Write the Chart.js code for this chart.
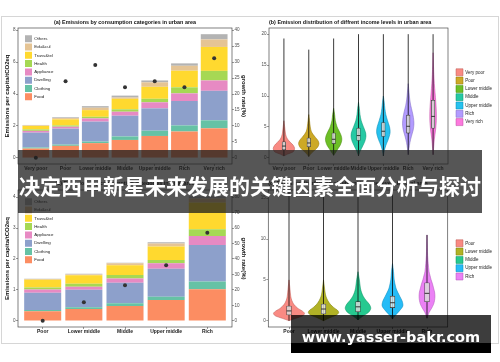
<!DOCTYPE html>
<html>
<head>
<meta charset="utf-8">
<script src="https://cdn.jsdelivr.net/npm/chart.js@4.4.1/dist/chart.umd.min.js"></script>
<style>
html,body{margin:0;padding:0;background:#fff;}
#page{position:relative;width:500px;height:362px;overflow:hidden;background:#fff;}
#page canvas{position:absolute;}
.frame{position:absolute;left:1px;top:16px;width:496px;height:326px;border:1px solid #d6d6d6;}
#banner{position:absolute;left:18px;top:150px;width:464px;height:63px;background:rgba(30,30,30,0.75);z-index:5;}
#banner div{position:absolute;left:0;top:23px;width:100%;height:24px;line-height:24px;text-align:center;color:#fff;font-family:"Noto Sans CJK SC",sans-serif;font-weight:700;font-size:21px;white-space:nowrap;}
#mark{position:absolute;left:291px;top:315px;width:200px;height:38px;background:rgba(0,0,0,0.76);z-index:5;}
#mark .strip{position:absolute;left:0;top:28px;width:100%;height:10px;background:#000;}
#mark .txt{position:absolute;left:0;top:13px;width:100%;height:18px;line-height:18px;text-align:center;color:#fff;font-family:"DejaVu Sans",sans-serif;font-weight:700;font-size:14.5px;white-space:nowrap;}
</style>
</head>
<body>
<div id="page">
  <div class="frame"></div>
  <canvas id="urbanBars" width="250" height="160" style="left:0;top:16px"></canvas>
  <canvas id="urbanViolin" width="250" height="160" style="left:250px;top:16px"></canvas>
  <canvas id="ruralBars" width="250" height="166" style="left:0;top:176px"></canvas>
  <canvas id="ruralViolin" width="250" height="166" style="left:250px;top:176px"></canvas>
  <div id="banner"><div>决定西甲新星未来发展的关键因素全面分析与探讨</div></div>
  <div id="mark"><div class="strip"></div><div class="txt">www.yasser-bakr.com</div></div>
</div>
<script>
// categories (stack order bottom -> top)
const categories = ['Food', 'Clothing', 'Dwelling', 'Appliance', 'Health', 'Trans&tel', 'Edu&cul', 'Others'];
const catColors = ['#fc8d62', '#66c2a5', '#8da0cb', '#e78ac3', '#a6d854', '#ffd92f', '#e5c494', '#b3b3b3'];

// urban
const urbanIncome = ['Very poor', 'Poor', 'Lower middle', 'Middle', 'Upper middle', 'Rich', 'Very rich'];
const urbanFood      = [0.58, 0.75, 0.92, 1.12, 1.37, 1.65, 1.85];
const urbanClothing  = [0.07, 0.08, 0.10, 0.22, 0.33, 0.38, 0.50];
const urbanDwelling  = [0.93, 1.00, 1.25, 1.30, 1.40, 1.53, 1.85];
const urbanAppliance = [0.11, 0.12, 0.20, 0.25, 0.38, 0.48, 0.65];
const urbanHealth    = [0.09, 0.08, 0.10, 0.15, 0.22, 0.38, 0.60];
const urbanTrans     = [0.22, 0.38, 0.42, 0.66, 0.75, 1.04, 1.50];
const urbanEdu       = [0.03, 0.08, 0.15, 0.08, 0.28, 0.31, 0.47];
const urbanOthers    = [0.03, 0.05, 0.10, 0.12, 0.12, 0.15, 0.33];
const urbanGrowth    = [0, 24, 29.1, 22.1, 24, 22.1, 31.2];

// rural
const ruralIncome = ['Poor', 'Lower middle', 'Middle', 'Upper middle', 'Rich'];
const ruralFood      = [0.31, 0.38, 0.48, 0.67, 1.02];
const ruralClothing  = [0.04, 0.06, 0.09, 0.11, 0.25];
const ruralDwelling  = [0.56, 0.56, 0.66, 0.90, 1.18];
const ruralAppliance = [0.10, 0.10, 0.14, 0.18, 0.29];
const ruralHealth    = [0.07, 0.10, 0.11, 0.11, 0.22];
const ruralTrans     = [0.25, 0.27, 0.32, 0.43, 0.87];
const ruralEdu       = [0.02, 0.03, 0.06, 0.10, 0.13];
const ruralOthers    = [0.01, 0.02, 0.02, 0.04, 0.07];
const ruralGrowth    = [0, 12, 23, 36, 57];

// violins: emission levels (y) and half widths (category units)
const urbanViolinColors = ['#F8766D', '#C49A00', '#53B400', '#00C094', '#00B6EB', '#A58AFF', '#FB61D7'];
const urbanDensityY = [
  [0.3, 0.6, 1.0, 1.5, 2.0, 2.5, 3.0, 3.5, 4.0, 5, 6],
  [0.2, 0.8, 1.3, 1.8, 2.3, 2.8, 3.3, 3.8, 4.3, 5, 6, 7],
  [0.4, 1, 1.5, 2, 2.5, 3, 3.5, 4, 4.5, 5, 6, 7, 8],
  [0.3, 1, 1.5, 2, 2.5, 3, 3.5, 4, 4.5, 5, 6, 7, 8, 9],
  [0.3, 1.2, 2, 2.5, 3, 3.5, 4, 4.5, 5, 5.5, 6, 7, 8, 9, 10],
  [0.5, 1.5, 2.5, 3.5, 4.5, 5.5, 6.5, 7.5, 8.5, 9.5, 10.5, 12],
  [0.5, 1.5, 3, 4.5, 6, 7.5, 9, 10.5, 12, 13.5, 15, 17]
];
const urbanDensityW = [
  [0, 0.15, 0.38, 0.43, 0.38, 0.26, 0.15, 0.09, 0.06, 0.03, 0],
  [0, 0.12, 0.26, 0.37, 0.41, 0.37, 0.27, 0.17, 0.10, 0.06, 0.03, 0],
  [0, 0.10, 0.18, 0.26, 0.31, 0.33, 0.31, 0.26, 0.20, 0.14, 0.07, 0.04, 0],
  [0, 0.06, 0.12, 0.18, 0.24, 0.28, 0.30, 0.29, 0.25, 0.20, 0.11, 0.06, 0.035, 0],
  [0, 0.04, 0.10, 0.15, 0.20, 0.24, 0.27, 0.27, 0.25, 0.21, 0.17, 0.10, 0.06, 0.035, 0],
  [0, 0.03, 0.07, 0.13, 0.20, 0.23, 0.21, 0.16, 0.10, 0.06, 0.035, 0],
  [0, 0.02, 0.05, 0.10, 0.13, 0.13, 0.11, 0.08, 0.05, 0.03, 0.015, 0]
];
const urbanQ1     = [1.3, 1.8, 2.3, 2.8, 3.45, 4.0, 4.8];
const urbanMedian = [1.9, 2.4, 3.0, 3.6, 4.3, 5.1, 6.7];
const urbanQ3     = [2.6, 3.2, 4.0, 4.8, 5.7, 6.9, 9.3];
const urbanMin    = [0.3, 0.2, 0.4, 0.3, 0.3, 0.5, 0.5];
const urbanMax    = [19.3, 17.5, 19.3, 20, 20, 20, 20];

const ruralViolinColors = ['#F8766D', '#A3A500', '#00BF7D', '#00B0F6', '#E76BF3'];
const ruralDensityY = [
  [0, 0.3, 0.6, 0.9, 1.2, 1.5, 2, 2.5, 3, 4, 5],
  [0, 0.4, 0.7, 1.0, 1.3, 1.6, 2, 2.5, 3, 3.5, 5],
  [0.1, 0.5, 1, 1.5, 2, 2.5, 3, 3.5, 4, 5, 6],
  [0.2, 0.6, 1.2, 1.8, 2.4, 3, 3.5, 4, 5, 6, 7],
  [0.3, 1, 1.5, 2, 2.5, 3, 3.5, 4, 4.5, 5, 5.5, 6, 7, 8, 9, 10.5]
];
const ruralDensityW = [
  [0, 0.20, 0.40, 0.45, 0.38, 0.26, 0.14, 0.08, 0.05, 0.025, 0],
  [0, 0.20, 0.38, 0.44, 0.40, 0.30, 0.20, 0.12, 0.07, 0.045, 0],
  [0, 0.12, 0.30, 0.37, 0.33, 0.23, 0.15, 0.10, 0.07, 0.04, 0],
  [0, 0.07, 0.20, 0.30, 0.28, 0.21, 0.15, 0.10, 0.05, 0.03, 0],
  [0, 0.06, 0.13, 0.19, 0.22, 0.23, 0.22, 0.19, 0.16, 0.12, 0.09, 0.06, 0.035, 0.018, 0.01, 0]
];
const ruralQ1     = [0.7, 0.82, 1.1, 1.6, 2.33];
const ruralMedian = [1.2, 1.43, 1.7, 2.2, 3.35];
const ruralQ3     = [1.8, 2.05, 2.33, 3.0, 4.65];
const ruralMin    = [0, 0, 0.1, 0.2, 0.3];
const ruralMax    = [16, 16, 16, 16, 10.5];

Chart.defaults.font.family = '"Liberation Sans", Arial, sans-serif';
Chart.defaults.color = '#4d4d4d';

function rgba(hex, a) {
  const n = parseInt(hex.slice(1), 16);
  return 'rgba(' + (n >> 16) + ',' + ((n >> 8) & 255) + ',' + (n & 255) + ',' + a + ')';
}
function shade(hex) {
  const n = parseInt(hex.slice(1), 16);
  const f = 0.75;
  return 'rgb(' + Math.round((n >> 16) * f) + ',' + Math.round(((n >> 8) & 255) * f) + ',' + Math.round((n & 255) * f) + ')';
}

// put the legend where ggplot has it
const legendPlace = {
  id: 'legendPlace',
  beforeLayout(chart, args, opts) {
    const l = chart.legend;
    if (l && opts.width && !l._fixed) {
      const fit = l.fit.bind(l);
      const w = opts.width;
      l.fit = function () { fit(); this.width = w; };
      l._fixed = true;
    }
  },
  afterLayout(chart, args, opts) {
    const l = chart.legend;
    if (!l || opts.x === undefined) return;
    const w = l.width, h = l.height;
    l.left = opts.x; l.right = opts.x + w;
    l.top = opts.y; l.bottom = opts.y + h;
  }
};

// panel border
const panelBorder = {
  id: 'panelBorder',
  afterDraw(chart) {
    const {ctx, chartArea: a} = chart;
    ctx.save();
    ctx.strokeStyle = '#4a4a4a';
    ctx.lineWidth = 0.7;
    ctx.strokeRect(a.left, a.top, a.right - a.left, a.bottom - a.top);
    ctx.restore();
  }
};

const tickGrid = {display: true, drawOnChartArea: false, drawTicks: true, tickLength: 2, color: '#333', lineWidth: 0.5};
const labelFont = {size: 4.4};

function stackChart(id, income, series, growth, g) {
  const datasets = series.map((vals, k) => ({
    type: 'bar',
    label: categories[k],
    backgroundColor: catColors[k],
    borderWidth: 0,
    barPercentage: 0.9,
    categoryPercentage: 1,
    order: 1,
    data: vals.map((v, i) => ({x: i, y: v}))
  }));
  datasets.push({
    type: 'line',
    label: 'growth',
    yAxisID: 'y2',
    showLine: false,
    pointRadius: 2,
    pointBackgroundColor: '#333',
    pointBorderWidth: 0,
    order: 0,
    data: growth.map((v, i) => ({x: i, y: v}))
  });

  return new Chart(document.getElementById(id), {
    type: 'bar',
    data: {datasets},
    plugins: [legendPlace, panelBorder],
    options: {
      animation: false,
      responsive: false,
      devicePixelRatio: 1,
      layout: {padding: 0},
      plugins: {
        title: {
          display: true, text: g.title, fullSize: false, align: 'center', color: '#111',
          font: {size: 5.4, weight: 'bold'}, padding: {top: g.tTop, bottom: g.tBot}
        },
        legend: {
          position: 'chartArea', align: 'start', reverse: true,
          labels: {
            boxWidth: 7, boxHeight: 7, padding: 1.3, color: '#1a1a1a', font: labelFont,
            filter: (item) => item.datasetIndex < categories.length
          }
        },
        legendPlace: {x: 23.7, y: g.legY},
        tooltip: {enabled: false}
      },
      scales: {
        x: {
          type: 'linear', min: -0.6, max: income.length - 0.4, offset: false, stacked: true,
          grid: Object.assign({}, tickGrid, {offset: false}), border: {display: false},
          ticks: {
            stepSize: 1, includeBounds: false, autoSkip: false, maxRotation: 0, padding: 0,
            color: '#1a1a1a', font: {size: 5, weight: 'bold'},
            callback: (v) => income[v] ?? ''
          },
          afterFit: (s) => { s.height = g.xh; }
        },
        y: {
          position: 'left', stacked: true, min: g.yMin, max: g.yMax,
          grid: tickGrid, border: {display: false},
          ticks: {stepSize: g.yStep, includeBounds: false, padding: 0.5, font: {size: 4.6}},
          title: {display: true, text: 'Emissions per capita/tCO2eq', color: '#111', font: {size: 6, weight: 'bold'}, padding: {top: 3.9, bottom: 0}},
          afterFit: (s) => { s.width = 18; }
        },
        y2: {
          position: 'right', min: g.yMin * g.k, max: g.yMax * g.k,
          grid: tickGrid, border: {display: false},
          ticks: {stepSize: g.y2Step, includeBounds: false, padding: 0.5, font: {size: 4.6}},
          title: {display: true, text: 'growth rate(%)', color: '#111', font: {size: 6, weight: 'bold'}, padding: {top: 2.7, bottom: 0}},
          afterFit: (s) => { s.width = 18; }
        }
      }
    }
  });
}

function violinChart(id, income, colors, dY, dW, q1, med, q3, vMin, vMax, g) {
  const datasets = [];
  income.forEach((name, i) => {
    const right = dY[i].map((y, k) => ({x: i + dW[i][k], y: y}));
    const left = dY[i].map((y, k) => ({x: i - dW[i][k], y: y})).reverse();
    datasets.push({
      type: 'line', label: name, data: right.concat(left), fill: 'shape',
      backgroundColor: rgba(colors[i], 0.85), borderColor: shade(colors[i]), borderWidth: 0.5,
      pointRadius: 0, tension: 0.3, order: 3
    });
  });
  // the jittered raw points read as a thin black column from min to max
  income.forEach((name, i) => {
    datasets.push({
      type: 'line', label: 'points', data: [{x: i, y: vMin[i]}, {x: i, y: vMax[i]}],
      borderColor: 'rgba(10,10,10,0.8)', borderWidth: 1, pointRadius: 0, fill: false, order: 2
    });
  });
  datasets.push({
    type: 'bar', label: 'box', data: income.map((n, i) => ({x: i, y: [q1[i], q3[i]]})),
    backgroundColor: 'rgba(255,255,255,0.7)', borderColor: '#333', borderWidth: 0.6,
    borderSkipped: false, barThickness: g.bw, order: 1
  });
  datasets.push({
    type: 'line', label: 'median', showLine: false, data: income.map((n, i) => ({x: i, y: med[i]})),
    pointStyle: 'line', pointRadius: g.bw / 2, pointBorderColor: '#222', pointBorderWidth: 0.9, order: 0
  });

  return new Chart(document.getElementById(id), {
    type: 'line',
    data: {datasets},
    plugins: [legendPlace, panelBorder],
    options: {
      animation: false,
      responsive: false,
      devicePixelRatio: 1,
      layout: {padding: 0},
      plugins: {
        title: {
          display: true, text: g.title, fullSize: false, align: 'start', color: '#111',
          font: {size: 5.4, weight: 'bold'}, padding: {top: g.tTop, bottom: g.tBot}
        },
        legend: {
          position: 'right', align: 'start',
          labels: {
            boxWidth: 7, boxHeight: 7, padding: 1.3, color: '#1a1a1a', font: {size: 4.5},
            filter: (item) => item.datasetIndex < income.length
          }
        },
        legendPlace: {width: g.legW, x: g.legX, y: g.legY},
        tooltip: {enabled: false}
      },
      scales: {
        x: {
          type: 'linear', min: -0.6, max: income.length - 0.4, offset: false,
          grid: Object.assign({}, tickGrid, {offset: false}), border: {display: false},
          ticks: {
            stepSize: 1, includeBounds: false, autoSkip: false, maxRotation: 0, padding: 0,
            color: '#1a1a1a', font: {size: 5, weight: 'bold'},
            callback: (v) => income[v] ?? ''
          },
          afterFit: (s) => { s.height = g.xh; }
        },
        y: {
          position: 'left', min: g.yMin, max: g.yMax,
          grid: tickGrid, border: {display: false},
          ticks: {stepSize: 5, includeBounds: false, padding: 0.5, font: {size: 4.6}},
          afterFit: (s) => { s.width = g.yw; }
        }
      }
    }
  });
}

stackChart('urbanBars', urbanIncome,
  [urbanFood, urbanClothing, urbanDwelling, urbanAppliance, urbanHealth, urbanTrans, urbanEdu, urbanOthers],
  urbanGrowth,
  {title: '(a) Emissions by consumption categories in urban area', tTop: 3.46, tBot: 2.06, xh: 12,
   yMin: -0.3875, yMax: 8.1375, yStep: 2, k: 5, y2Step: 5, legY: 17.9});

stackChart('ruralBars', ruralIncome,
  [ruralFood, ruralClothing, ruralDwelling, ruralAppliance, ruralHealth, ruralTrans, ruralEdu, ruralOthers],
  ruralGrowth,
  {title: '(c) Emissions by consumption categories in rural area', tTop: 4.26, tBot: 3.26, xh: 15,
   yMin: -0.2015, yMax: 4.2315, yStep: 1, k: 20, y2Step: 10, legY: 20.9});

violinChart('urbanViolin', urbanIncome, urbanViolinColors, urbanDensityY, urbanDensityW,
  urbanQ1, urbanMedian, urbanQ3, urbanMin, urbanMax,
  {title: '(b) Emission distribution of diffrent income levels in urban area', tTop: 3.46, tBot: 2.06, xh: 12,
   yMin: -1, yMax: 21, yw: 19, bw: 3.5, legW: 52, legX: 204.7, legY: 51.5});

violinChart('ruralViolin', ruralIncome, ruralViolinColors, ruralDensityY, ruralDensityW,
  ruralQ1, ruralMedian, ruralQ3, ruralMin, ruralMax,
  {title: '(d) Emission distribution of diffrent income levels in rural area', tTop: 4.26, tBot: 3.26, xh: 15,
   yMin: -0.77, yMax: 16, yw: 18.3, bw: 4.7, legW: 52.3, legX: 204.7, legY: 62.5});
</script>
</body>
</html>
